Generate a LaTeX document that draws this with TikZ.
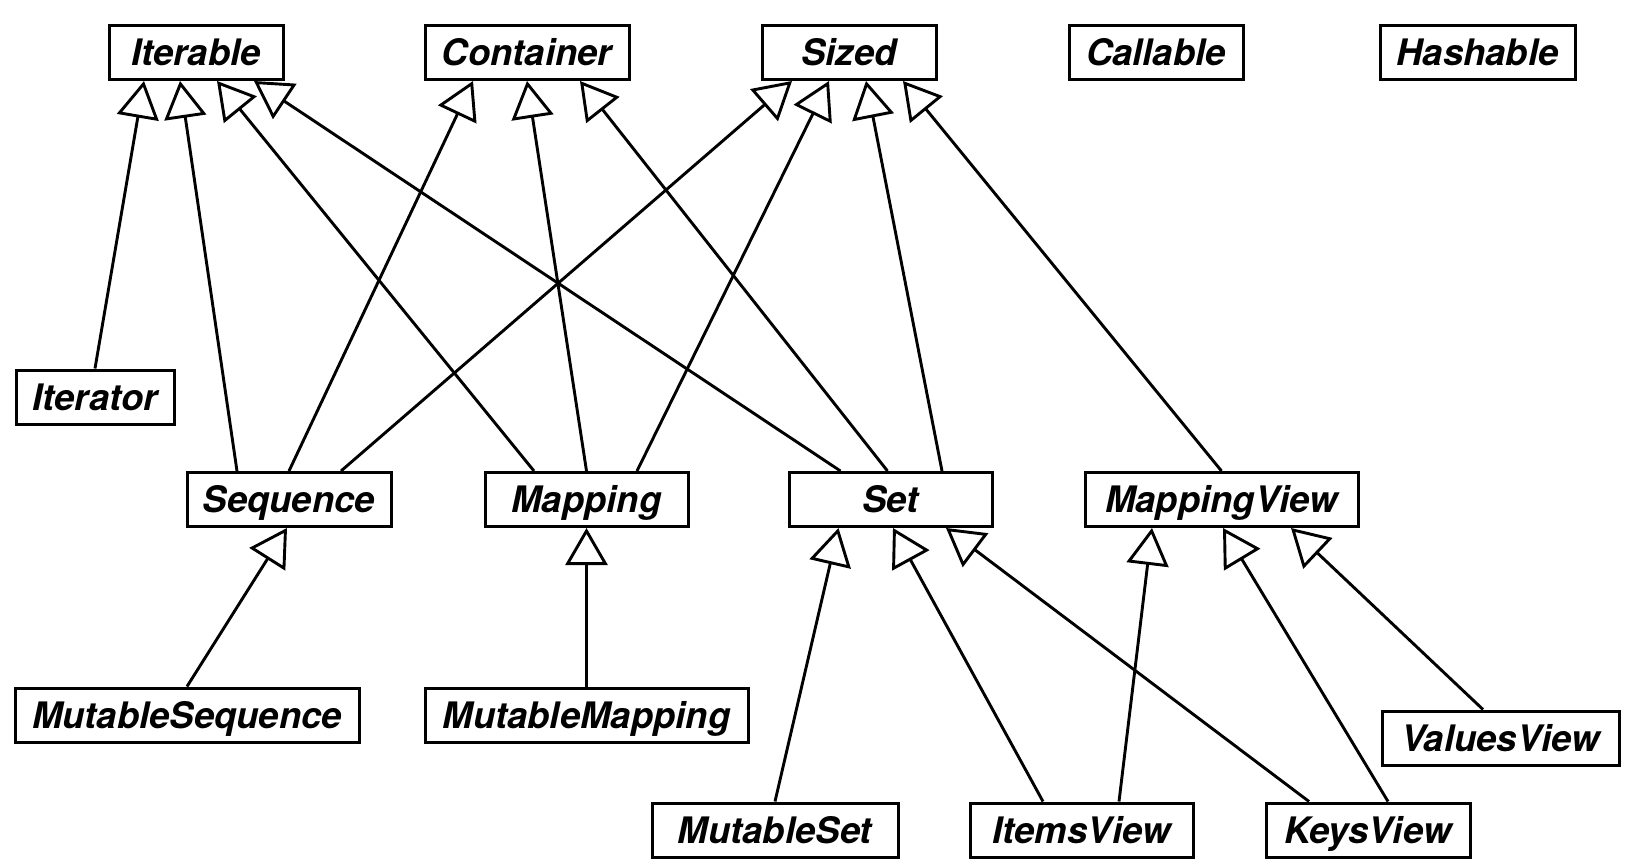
\documentclass[tikz,border=0pt]{standalone}
\usepackage{fontspec}
\setmainfont{TeX Gyre Heros}
\usetikzlibrary{arrows.meta}
\begin{document}
\begin{tikzpicture}[x=1pt,y=-1pt,
  cls/.style={draw, line width=3pt, fill=white, minimum height=54pt, inner sep=0pt,
    text height=26pt, text depth=0pt,
    font=\fontsize{36.5}{40}\selectfont\bfseries\itshape},
  gen/.style={line width=2.9pt, line join=miter, -{Triangle[length=37pt, width=42pt, fill=white]}}]
\useasboundingbox (0,0) rectangle (1632,866);
% top row
\node[cls, minimum width=174pt] (itb) at (196,52.5) {Iterable};
\node[cls, minimum width=204pt] (cont) at (527,52.5) {Container};
\node[cls, minimum width=174pt] (sized) at (849,52.5) {Sized};
\node[cls, minimum width=174pt] (call) at (1156,52.5) {Callable};
\node[cls, minimum width=195pt] (hash) at (1477.5,52.5) {Hashable};
% iterator
\node[cls, minimum width=158pt] (iter) at (95,397) {Iterator};
% middle row
\node[cls, minimum width=204pt] (seq) at (289,499.5) {Sequence};
\node[cls, minimum width=203pt] (map) at (586.5,499.5) {Mapping};
\node[cls, minimum width=203pt] (set) at (890.5,499.5) {Set};
\node[cls, minimum width=273pt] (mv) at (1221.5,499.5) {MappingView};
% lower rows
\node[cls, minimum width=344pt] (mseq) at (187,715) {MutableSequence};
\node[cls, minimum width=323pt] (mmap) at (586.5,715) {MutableMapping};
\node[cls, minimum width=237pt] (vv) at (1500.5,738) {ValuesView};
\node[cls, minimum width=246pt] (mset) at (775,830) {MutableSet};
\node[cls, minimum width=223pt] (iv) at (1081.5,830) {ItemsView};
\node[cls, minimum width=204pt] (kv) at (1368,830) {KeysView};
% generalizations to Iterable
\draw[gen] (iter.north) -- ([xshift=-52pt]itb.south);
\draw[gen] ([xshift=-52pt]seq.north) -- ([xshift=-16pt]itb.south);
\draw[gen] ([xshift=-52.5pt]map.north) -- ([xshift=21pt]itb.south);
\draw[gen] ([xshift=-50pt]set.north) -- ([xshift=58pt]itb.south);
% to Container
\draw[gen] (seq.north) -- ([xshift=-54pt]cont.south);
\draw[gen] (map.north) -- (cont.south);
\draw[gen] ([xshift=-3pt]set.north) -- ([xshift=53pt]cont.south);
% to Sized
\draw[gen] ([xshift=52pt]seq.north) -- ([xshift=-57pt]sized.south);
\draw[gen] ([xshift=50.5pt]map.north) -- ([xshift=-20pt]sized.south);
\draw[gen] ([xshift=51.5pt]set.north) -- ([xshift=17pt]sized.south);
\draw[gen] (mv.north) -- ([xshift=54pt]sized.south);
% lower
\draw[gen] (mseq.north) -- ([xshift=-2pt]seq.south);
\draw[gen] (mmap.north) -- (map.south);
\draw[gen] (mset.north) -- ([xshift=-52pt]set.south);
\draw[gen] ([xshift=-38.5pt]iv.north) -- ([xshift=2.5pt]set.south);
\draw[gen] ([xshift=-59pt]kv.north) -- ([xshift=55.5pt]set.south);
\draw[gen] ([xshift=37.5pt]iv.north) -- ([xshift=-69.5pt]mv.south);
\draw[gen] ([xshift=20pt]kv.north) -- ([xshift=1.5pt]mv.south);
\draw[gen] ([xshift=-17.5pt]vv.north) -- ([xshift=69.5pt]mv.south);
\end{tikzpicture}
\end{document}
